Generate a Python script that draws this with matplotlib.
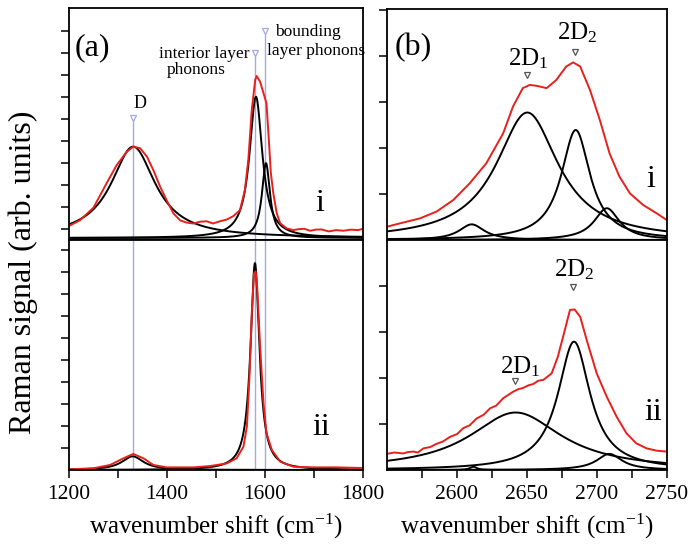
import numpy as np
import matplotlib
matplotlib.use('Agg')
import matplotlib.pyplot as plt

plt.rcParams['font.family'] = ['Liberation Serif', 'DejaVu Serif']
plt.rcParams['mathtext.fontset'] = 'custom'
plt.rcParams['mathtext.rm'] = 'Liberation Serif'
plt.rcParams['mathtext.it'] = 'Liberation Serif:italic'

# ---- panel (a), spectrum i (measured) ----
a_i_x = [1200, 1222, 1250, 1277, 1297, 1318, 1331, 1345, 1359, 1372, 1386, 1399,
         1413, 1427, 1440, 1454, 1467, 1481, 1494, 1508, 1522, 1535, 1549, 1559,
         1566, 1573, 1580, 1583, 1590, 1597, 1603, 1607, 1612, 1617, 1624, 1631,
         1644, 1658, 1668, 1680, 1692, 1703, 1715, 1730, 1745, 1760, 1775, 1790, 1800]
a_i_y = [0.55, 0.80, 1.38, 2.50, 3.30, 3.92, 4.15, 4.08, 3.70, 3.09, 2.33, 1.73,
         1.12, 0.80, 0.70, 0.66, 0.74, 0.76, 0.66, 0.76, 0.84, 0.99, 1.27, 2.18,
         3.55, 5.82, 7.18, 7.36, 7.10, 6.58, 6.12, 4.76, 2.94, 2.03, 1.12, 0.67,
         0.44, 0.36, 0.40, 0.42, 0.33, 0.38, 0.39, 0.30, 0.36, 0.33, 0.38, 0.36, 0.42]
# fitted Lorentzian components (centre, height, half width)
a_i_pos = [1331, 1581.5, 1602]
a_i_height = [4.15, 6.42, 3.40]
a_i_hwhm = [55, 16, 10]

# ---- panel (a), spectrum ii ----
a_ii_x = [1200, 1250, 1284, 1311, 1331, 1352, 1372, 1399, 1454, 1488, 1522, 1542,
          1556, 1563, 1568, 1573, 1577.6, 1581, 1584, 1590, 1597, 1603, 1614, 1631,
          1658, 1699, 1746, 1800]
a_ii_y = [0.03, 0.08, 0.23, 0.53, 0.73, 0.53, 0.23, 0.12, 0.12, 0.18, 0.30, 0.53,
          1.06, 1.97, 4.09, 7.12, 8.94, 9.02, 8.33, 5.60, 3.03, 1.67, 0.91, 0.38,
          0.15, 0.12, 0.12, 0.09]
a_ii_pos = [1330, 1579.5]
a_ii_height = [0.62, 9.40]
a_ii_hwhm = [27, 11]

# marker lines in panel (a)
line_pos = [1330, 1580, 1600]
line_top = [5.45, 8.41, 9.41]

# ---- panel (b), spectrum i ----
b_i_x = [2550, 2561.7, 2573.6, 2585.5, 2597.4, 2609, 2621, 2633, 2640, 2647, 2652,
         2657, 2664, 2671, 2678, 2683, 2688, 2695, 2702, 2709, 2716, 2723.6, 2733,
         2742.6, 2750]
b_i_y = [0.29, 0.38, 0.47, 0.62, 0.87, 1.23, 1.67, 2.32, 2.90, 3.30, 3.37,
         3.35, 3.30, 3.48, 3.77, 3.86, 3.77, 3.26, 2.61, 1.88, 1.38, 1.01, 0.76,
         0.58, 0.43]
b_i_pos = [2610.5, 2650.2, 2684.8, 2707]
b_i_height = [0.34, 2.77, 2.39, 0.69]
b_i_hwhm = [11, 27, 12.5, 11]

# ---- panel (b), spectrum ii ----
b_ii_x = [2550, 2555, 2561.7, 2565, 2568.8, 2572, 2576, 2581, 2585.5, 2590, 2595,
          2600, 2604.5, 2609, 2614, 2619, 2623.6, 2628, 2633, 2637, 2640, 2644, 2647,
          2651, 2654.5, 2658, 2661.7, 2667.6, 2672, 2677, 2680.7, 2684, 2688, 2692.6,
          2699.8, 2707, 2714, 2721, 2728, 2735.5, 2742.6, 2750]
b_ii_y = [0.35, 0.38, 0.36, 0.39, 0.40, 0.38, 0.47, 0.50, 0.57, 0.62, 0.72,
          0.78, 0.91, 0.97, 1.12, 1.20, 1.34, 1.40, 1.56, 1.64, 1.70, 1.76, 1.78,
          1.84, 1.87, 1.94, 1.96, 2.10, 2.46, 3.04, 3.48, 3.49, 3.33, 2.83,
          2.10, 1.59, 1.16, 0.80, 0.58, 0.47, 0.42, 0.40]
b_ii_pos = [2611.7, 2641.9, 2683.6, 2708.8]
b_ii_height = [0.07, 1.25, 2.79, 0.35]
b_ii_hwhm = [3, 40, 14, 11]

RED = '#e8201c'
BLUE = '#a3a9e3'
GRAY = '#555555'


def lorentz(x, x0, h, g):
    return h / (1 + ((x - x0) / g) ** 2)


W, H = 694, 552
fig = plt.figure(figsize=(W / 100, H / 100), dpi=100)


def box(x0, y0, x1, y1):
    # pixel box -> figure fraction
    return [x0 / W, 1 - y1 / H, (x1 - x0) / W, (y1 - y0) / H]


ax_ai = fig.add_axes(box(69, 8, 363, 240))
ax_aii = fig.add_axes(box(69, 240, 363, 470))
ax_bi = fig.add_axes(box(387, 9, 667, 240))
ax_bii = fig.add_axes(box(387, 240, 667, 470))


def draw(ax, xr, x, y, pos, hgt, hw):
    xs = np.linspace(xr[0], xr[1], 1200)
    for p, h, g in zip(pos, hgt, hw):
        ax.plot(xs, lorentz(xs, p, h, g), color='black', lw=1.4)
    ax.plot(x, y, color=RED, lw=1.4)
    ax.set_xlim(*xr)


draw(ax_ai, (1200, 1800), a_i_x, a_i_y, a_i_pos, a_i_height, a_i_hwhm)
draw(ax_aii, (1200, 1800), a_ii_x, a_ii_y, a_ii_pos, a_ii_height, a_ii_hwhm)
draw(ax_bi, (2550, 2750), b_i_x, b_i_y, b_i_pos, b_i_height, b_i_hwhm)
draw(ax_bii, (2550, 2750), b_ii_x, b_ii_y, b_ii_pos, b_ii_height, b_ii_hwhm)

ax_ai.set_ylim(-0.09, 10.45)
ax_aii.set_ylim(0, 10.45)
ax_bi.set_ylim(0, 5.02)
ax_bii.set_ylim(0, 5.0)

ax_ai.set_yticks(np.arange(0.41, 10, 1))
ax_aii.set_yticks(np.arange(1, 11, 1))
ax_bi.set_yticks(np.arange(1, 6, 1))
ax_bii.set_yticks(np.arange(1, 5, 1))

# blue marker lines
for p, t in zip(line_pos, line_top):
    ax_ai.plot([p, p], [-0.09, t], color=BLUE, lw=1.0, zorder=0)
    ax_ai.plot([p], [t], marker='v', ms=5, mfc='white', mec=BLUE, mew=0.9, clip_on=False)
    ax_aii.axvline(p, color=BLUE, lw=1.0, zorder=0)

for ax in (ax_ai, ax_aii, ax_bi, ax_bii):
    for s in ax.spines.values():
        s.set_linewidth(1.3)
    ax.tick_params(axis='y', direction='out', length=5.5, width=1.1,
                   labelleft=False, right=False)
for ax in (ax_ai, ax_bi):
    ax.tick_params(axis='x', bottom=False, labelbottom=False)

ax_aii.set_xticks([1200, 1400, 1600, 1800])
ax_aii.set_xticks([1300, 1500, 1700], minor=True)
ax_bii.set_xticks([2600, 2650, 2700, 2750])
ax_bii.set_xticks([2575, 2625, 2675, 2725], minor=True)
for ax in (ax_aii, ax_bii):
    ax.tick_params(axis='x', which='both', direction='out', length=5.5, width=1.1,
                   labelsize=15.5, pad=5)
    ax.set_xlabel('wavenumber shift (cm$^{-1}$)', fontsize=18, labelpad=6)

fig.text(23 / W, 1 - 272 / H, 'Raman signal (arb. units)', rotation=90,
         ha='center', va='center', fontsize=23)

# panel letters
ax_ai.text(0.02, 0.797, '(a)', transform=ax_ai.transAxes, fontsize=23, va='baseline')
ax_bi.text(0.029, 0.80, '(b)', transform=ax_bi.transAxes, fontsize=23, va='baseline')

# peak labels in (a)
ax_ai.text(1331, 5.9, 'D', fontsize=13, ha='left', va='baseline')
ax_ai.text(1475.5, 8.18, 'interior layer', fontsize=12.5, ha='center', va='baseline')
ax_ai.text(1459, 7.45, 'phonons', fontsize=12.5, ha='center', va='baseline')
ax_ai.text(1687, 9.18, 'bounding', fontsize=12.5, ha='center', va='baseline')
ax_ai.text(1704, 8.32, 'layer phonons', fontsize=12.5, ha='center', va='baseline')
ax_ai.text(1712, 1.24, 'i', fontsize=23, ha='center', va='baseline')
ax_aii.text(1714, 1.59, 'ii', fontsize=23, ha='center', va='baseline')

# peak labels in (b)
ax_bi.text(2651, 3.8, '2D$_{1}$', fontsize=18, ha='center', va='baseline')
ax_bi.text(2686, 4.35, '2D$_{2}$', fontsize=18, ha='center', va='baseline')
ax_bi.plot([2650, 2684], [3.59, 4.09], ls='none', marker='v', ms=5, mfc='white',
           mec=GRAY, mew=0.9)
ax_bi.text(2738.6, 1.16, 'i', fontsize=23, ha='center', va='baseline')

ax_bii.text(2645, 2.11, '2D$_{1}$', fontsize=18, ha='center', va='baseline')
ax_bii.text(2684, 4.2, '2D$_{2}$', fontsize=18, ha='center', va='baseline')
ax_bii.plot([2641.4, 2683], [1.94, 3.98], ls='none', marker='v', ms=5, mfc='white',
            mec=GRAY, mew=0.9)
ax_bii.text(2740, 1.09, 'ii', fontsize=23, ha='center', va='baseline')

fig.savefig('out.png', dpi=100)
